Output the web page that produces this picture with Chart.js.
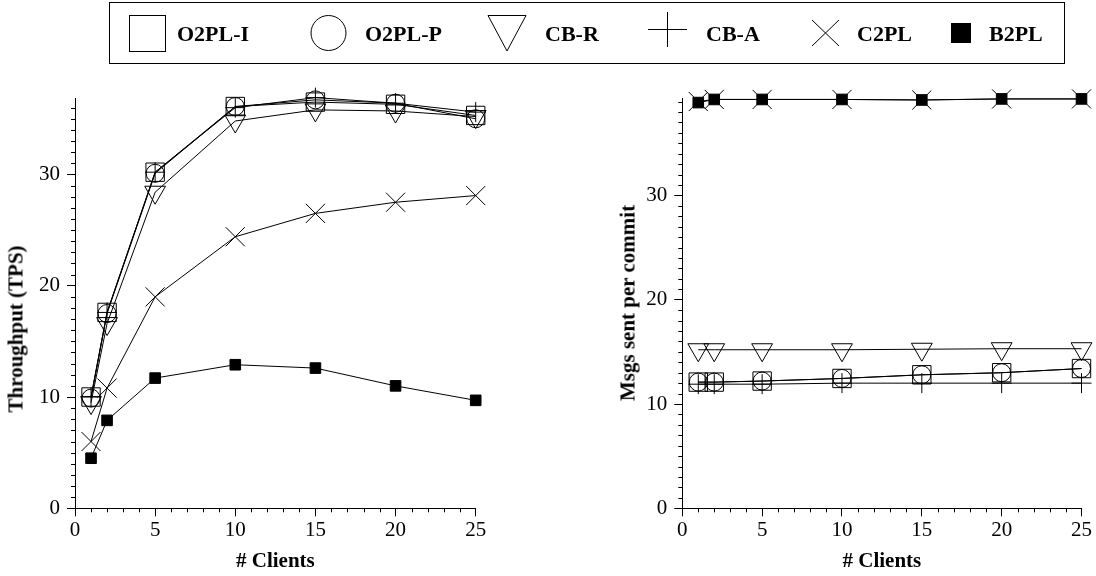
<!DOCTYPE html>
<html>
<head>
<meta charset="utf-8">
<script src="https://cdn.jsdelivr.net/npm/chart.js@4.4.1/dist/chart.umd.min.js"></script>
<style>
  body { margin: 0; background: #fff; }
  #wrap { position: relative; width: 1096px; height: 576px; font-family: 'Liberation Serif', 'Times New Roman', serif; color: #000; }
  canvas { position: absolute; top: 0; }
  #tpsChart { left: 0; }
  #msgChart { left: 548px; }
  .key { position: absolute; top: 23px; font-weight: bold; font-size: 22px; line-height: 22px; white-space: nowrap; }
  .ytitle { position: absolute; font-weight: bold; font-size: 21px; line-height: 21px; white-space: nowrap;
            transform: translate(-50%, -50%) rotate(-90deg); }
</style>
</head>
<body>
<div id="wrap">
  <canvas id="tpsChart" width="548" height="576"></canvas>
  <canvas id="msgChart" width="548" height="576"></canvas>

  <svg width="1096" height="70" style="position:absolute;left:0;top:0">
    <rect x="109.5" y="2.5" width="955" height="61" fill="none" stroke="#000"/>
    <rect x="129.5" y="15.5" width="36" height="36" fill="none" stroke="#000"/>
    <circle cx="328.5" cy="33" r="17.5" fill="none" stroke="#000"/>
    <polygon points="488,15.5 526,15.5 507,51" fill="none" stroke="#000"/>
    <path d="M648 29.5H687M667.5 12V47" stroke="#000"/>
    <path d="M812 20L839 46M839 20L812 46" stroke="#000"/>
    <rect x="951" y="23" width="20" height="20" fill="#000"/>
  </svg>
  <span class="key" style="left:177px">O2PL-I</span>
  <span class="key" style="left:365px">O2PL-P</span>
  <span class="key" style="left:545px">CB-R</span>
  <span class="key" style="left:706px">CB-A</span>
  <span class="key" style="left:857px">C2PL</span>
  <span class="key" style="left:989px">B2PL</span>

  <div class="ytitle" style="left:16px;top:329px">Throughput (TPS)</div>
  <div class="ytitle" style="left:628px;top:303px">Msgs sent per commit</div>
</div>

<script>
// data
const clients = [1, 2, 5, 10, 15, 20, 25];
const seriesNames = ['O2PL-I', 'O2PL-P', 'CB-R', 'CB-A', 'C2PL', 'B2PL'];

const tpsO2plI = [10.0, 17.6, 30.2, 36.1, 36.5, 36.3, 35.3];
const tpsO2plP = [9.9, 17.5, 30.1, 36.1, 36.7, 36.4, 35.0];
const tpsCbR   = [9.5, 16.6, 28.4, 34.8, 35.8, 35.7, 35.2];
const tpsCbA   = [10.0, 17.6, 30.2, 36.0, 36.9, 36.4, 35.6];
const tpsC2pl  = [6.0, 10.8, 19.0, 24.4, 26.5, 27.5, 28.1];
const tpsB2pl  = [4.5, 7.9, 11.7, 12.9, 12.6, 11.0, 9.7];

const msgO2plI = [12.1, 12.1, 12.2, 12.45, 12.8, 13.0, 13.4];
const msgO2plP = [12.1, 12.1, 12.2, 12.45, 12.8, 13.0, 13.4];
const msgCbR   = [15.2, 15.2, 15.2, 15.2, 15.25, 15.3, 15.3];
const msgCbA   = [11.9, 11.9, 11.9, 12.0, 12.0, 12.0, 12.0];
const msgC2pl  = [39.0, 39.2, 39.2, 39.2, 39.15, 39.25, 39.25];
const msgB2pl  = [38.9, 39.2, 39.2, 39.2, 39.15, 39.25, 39.25];

const xTicks = [0, 5, 10, 15, 20, 25];
const yTicks = [0, 10, 20, 30];

Chart.defaults.font.family = "'Liberation Serif', 'Times New Roman', serif";
Chart.defaults.color = '#000';

const markers = [
    { style: 'rect', radius: 13 },
    { style: 'circle', radius: 9 },
    { style: 'triangle', radius: 12, rotation: 180 },
    { style: 'cross', radius: 10 },
    { style: 'crossRot', radius: 13.5 },
    { style: 'rect', radius: 7.5, fill: '#000' }
];

function makeDatasets(allValues) {
    return allValues.map((vals, i) => {
        const m = markers[i];
        return {
            label: seriesNames[i],
            data: clients.map((c, k) => ({ x: c, y: vals[k] })),
            borderColor: '#000',
            borderWidth: 1,
            tension: 0,
            clip: false,
            pointStyle: m.style,
            pointRadius: m.radius,
            pointRotation: m.rotation || 0,
            pointBorderColor: '#000',
            pointBorderWidth: 1,
            pointBackgroundColor: m.fill || 'rgba(0,0,0,0)'
        };
    });
}

// small ticks every unit, between the labelled ones
const minorTicks = {
    id: 'minorTicks',
    afterDraw(chart) {
        const ctx = chart.ctx;
        const xs = chart.scales.x, ys = chart.scales.y;
        ctx.save();
        ctx.strokeStyle = '#000';
        ctx.lineWidth = 1;
        ctx.beginPath();
        for (let v = xs.min; v <= xs.max; v++) {
            if (xTicks.includes(v)) continue;
            const px = Math.round(xs.getPixelForValue(v)) + 0.5;
            ctx.moveTo(px, xs.top);
            ctx.lineTo(px, xs.top + 4);
        }
        for (let v = ys.min; v <= ys.max; v++) {
            if (yTicks.includes(v)) continue;
            const py = Math.round(ys.getPixelForValue(v)) + 0.5;
            ctx.moveTo(ys.right - 4, py);
            ctx.lineTo(ys.right, py);
        }
        ctx.stroke();
        ctx.restore();
    }
};

function makeOptions(yMax, yAxisWidth, rightPad) {
    const axisGrid = { drawOnChartArea: false, drawTicks: true, tickLength: 8, color: '#000', lineWidth: 1 };
    const axisBorder = { display: true, color: '#000', width: 1 };
    return {
        responsive: false,
        animation: false,
        layout: { padding: { top: 98.3, right: rightPad, bottom: 0, left: 0 } },
        plugins: { legend: { display: false }, tooltip: { enabled: false } },
        scales: {
            x: {
                type: 'linear',
                min: 0, max: 25,
                bounds: 'data',
                grid: axisGrid,
                border: axisBorder,
                ticks: { font: { size: 21 }, padding: 2, maxRotation: 0, autoSkip: false },
                afterBuildTicks: s => { s.ticks = xTicks.map(v => ({ value: v })); },
                afterFit: s => { s.height = 67.7; },
                title: { display: true, text: '# Clients', font: { size: 21, weight: 'bold' }, padding: { top: 0, bottom: 1.4 } }
            },
            y: {
                type: 'linear',
                min: 0, max: yMax,
                bounds: 'data',
                grid: axisGrid,
                border: axisBorder,
                ticks: { font: { size: 21 }, padding: 7 },
                afterBuildTicks: s => { s.ticks = yTicks.map(v => ({ value: v })); },
                afterFit: s => { s.width = yAxisWidth; }
            }
        }
    };
}

new Chart(document.getElementById('tpsChart'), {
    type: 'line',
    data: { datasets: makeDatasets([tpsO2plI, tpsO2plP, tpsCbR, tpsCbA, tpsC2pl, tpsB2pl]) },
    options: makeOptions(36.84, 75, 72.3),
    plugins: [minorTicks]
});

new Chart(document.getElementById('msgChart'), {
    type: 'line',
    data: { datasets: makeDatasets([msgO2plI, msgO2plP, msgCbR, msgCbA, msgC2pl, msgB2pl]) },
    options: makeOptions(39.31, 134.3, 13),
    plugins: [minorTicks]
});
</script>
</body>
</html>
